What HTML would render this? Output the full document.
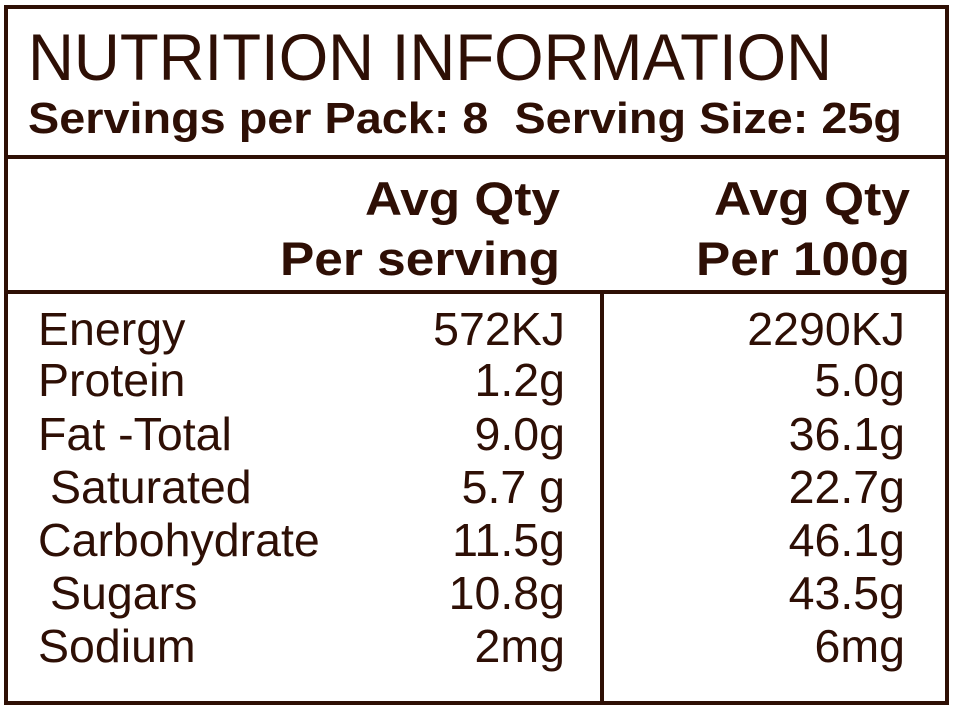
<!DOCTYPE html>
<html><head><style>html,body{margin:0;padding:0;background:#fff;}svg{display:block}</style></head>
<body>
<svg width="954" height="715" viewBox="0 0 954 715" xmlns="http://www.w3.org/2000/svg" font-family="Liberation Sans, Arial, sans-serif" fill="#2e0f05">
<rect x="0" y="0" width="954" height="715" fill="#fff"/>
<g stroke="#2e0f05" stroke-width="4" fill="none">
<rect x="6" y="7" width="941" height="696"/>
<line x1="6" y1="157" x2="947" y2="157"/>
<line x1="6" y1="292" x2="947" y2="292"/>
<line x1="602" y1="292" x2="602" y2="703"/>
</g>
<text x="28" y="80" font-size="66" textLength="804" lengthAdjust="spacingAndGlyphs">NUTRITION INFORMATION</text>
<text x="28" y="133" font-size="44" font-weight="bold" textLength="874" lengthAdjust="spacingAndGlyphs" xml:space="preserve">Servings per Pack: 8  Serving Size: 25g</text>
<g font-size="47" font-weight="bold" lengthAdjust="spacingAndGlyphs">
<text x="365" y="215" textLength="195" lengthAdjust="spacingAndGlyphs">Avg Qty</text>
<text x="280" y="275" textLength="280" lengthAdjust="spacingAndGlyphs">Per serving</text>
<text x="714" y="215" textLength="196" lengthAdjust="spacingAndGlyphs">Avg Qty</text>
<text x="696" y="275" textLength="214" lengthAdjust="spacingAndGlyphs">Per 100g</text>
</g>
<g font-size="46.5">
<text x="38" y="345">Energy</text>
<text x="38" y="396">Protein</text>
<text x="38" y="450">Fat -Total</text>
<text x="50" y="503">Saturated</text>
<text x="38" y="556">Carbohydrate</text>
<text x="50" y="609">Sugars</text>
<text x="38" y="662">Sodium</text>
</g>
<g font-size="46.5" text-anchor="end">
<text x="565" y="345">572KJ</text>
<text x="565" y="396">1.2g</text>
<text x="565" y="450">9.0g</text>
<text x="565" y="503">5.7 g</text>
<text x="565" y="556">11.5g</text>
<text x="565" y="609">10.8g</text>
<text x="565" y="662">2mg</text>
<text x="905" y="345">2290KJ</text>
<text x="905" y="396">5.0g</text>
<text x="905" y="450">36.1g</text>
<text x="905" y="503">22.7g</text>
<text x="905" y="556">46.1g</text>
<text x="905" y="609">43.5g</text>
<text x="905" y="662">6mg</text>
</g>
</svg>
</body></html>
